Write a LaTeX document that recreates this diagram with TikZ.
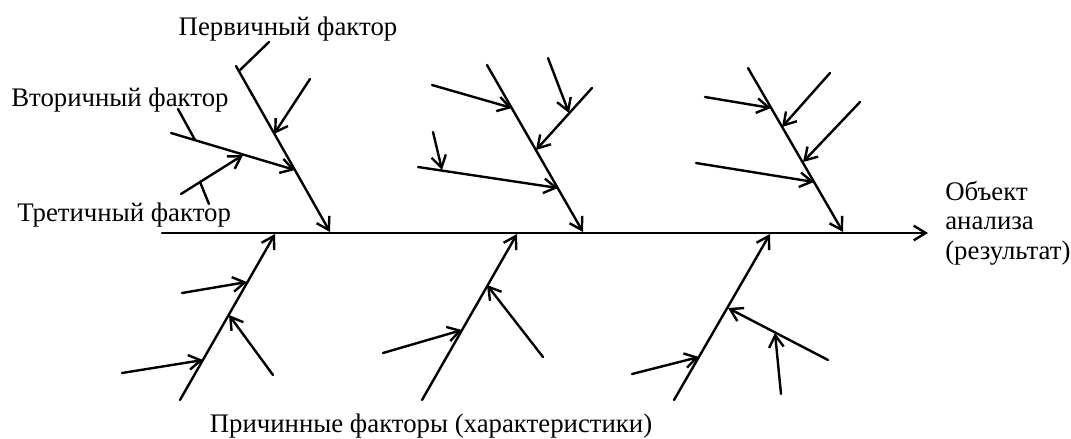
\documentclass[tikz,border=0pt]{standalone}
\usepackage{fontspec}
\setmainfont{Liberation Serif}
\usetikzlibrary{arrows.meta}
\begin{document}
\begin{tikzpicture}[x=0.75pt,y=-0.75pt,
  ln/.style={line width=1.8pt, line cap=round},
  arr/.style={ln, -{Straight Barb[length=9pt,width=11pt]}},
  lbl/.style={font=\fontsize{20.1}{22}\selectfont, inner sep=0pt}]
\useasboundingbox (0,0) rectangle (1071,439);
% spine
\coordinate (s0) at (162,233);
\coordinate (s1) at (928,233);
\draw[arr] (s0) -- (s1);
% upper branch 1
\coordinate (u1a) at (236,66);  \coordinate (u1b) at (330,232);
\coordinate (a11) at (310,79);  \coordinate (a11t) at (274,134);
\coordinate (a12) at (171,133); \coordinate (a12t) at (295,170);
\coordinate (a13) at (181,194); \coordinate (a13t) at (243,155);
\coordinate (p1a) at (239,71);  \coordinate (p1b) at (269,42);
\coordinate (p2a) at (195,140); \coordinate (p2b) at (178,109);
\coordinate (p3a) at (200,182); \coordinate (p3b) at (209,204);
\draw[arr] (u1a) -- (u1b);
\draw[arr] (a11) -- (a11t);
\draw[arr] (a12) -- (a12t);
\draw[arr] (a13) -- (a13t);
\draw[ln] (p1a) -- (p1b);
\draw[ln] (p2a) -- (p2b);
\draw[ln] (p3a) -- (p3b);
% upper branch 2
\coordinate (u2a) at (487,65);  \coordinate (u2b) at (583,232);
\coordinate (a21) at (432,85);  \coordinate (a21t) at (512,108);
\coordinate (a22) at (592,88);  \coordinate (a22t) at (536,150);
\coordinate (b22) at (548,58);  \coordinate (b22t) at (569,113);
\coordinate (a23) at (418,167); \coordinate (a23t) at (558,188);
\coordinate (b23) at (433,132); \coordinate (b23t) at (442,170);
\draw[arr] (u2a) -- (u2b);
\draw[arr] (a21) -- (a21t);
\draw[arr] (a22) -- (a22t);
\draw[arr] (b22) -- (b22t);
\draw[arr] (a23) -- (a23t);
\draw[arr] (b23) -- (b23t);
% upper branch 3
\coordinate (u3a) at (748,68);  \coordinate (u3b) at (843,232);
\coordinate (a31) at (705,97);  \coordinate (a31t) at (771,108);
\coordinate (a32) at (830,73);  \coordinate (a32t) at (782,127);
\coordinate (a33) at (860,102); \coordinate (a33t) at (803,162);
\coordinate (a34) at (696,163); \coordinate (a34t) at (814,182);
\draw[arr] (u3a) -- (u3b);
\draw[arr] (a31) -- (a31t);
\draw[arr] (a32) -- (a32t);
\draw[arr] (a33) -- (a33t);
\draw[arr] (a34) -- (a34t);
% lower branch 1
\coordinate (l1a) at (180,400); \coordinate (l1b) at (275,234);
\coordinate (c11) at (182,293); \coordinate (c11t) at (247,282);
\coordinate (c12) at (273,375); \coordinate (c12t) at (229,315);
\coordinate (c13) at (122,373); \coordinate (c13t) at (203,360);
\draw[arr] (l1a) -- (l1b);
\draw[arr] (c11) -- (c11t);
\draw[arr] (c12) -- (c12t);
\draw[arr] (c13) -- (c13t);
% lower branch 2
\coordinate (l2a) at (422,400); \coordinate (l2b) at (517,234);
\coordinate (c21) at (383,353); \coordinate (c21t) at (462,330);
\coordinate (c22) at (543,357); \coordinate (c22t) at (487,285);
\draw[arr] (l2a) -- (l2b);
\draw[arr] (c21) -- (c21t);
\draw[arr] (c22) -- (c22t);
% lower branch 3
\coordinate (l3a) at (674,400); \coordinate (l3b) at (770,234);
\coordinate (c31) at (632,374); \coordinate (c31t) at (699,357);
\coordinate (c32) at (828,360); \coordinate (c32t) at (728,308);
\coordinate (d32) at (781,394); \coordinate (d32t) at (775,333);
\draw[arr] (l3a) -- (l3b);
\draw[arr] (c31) -- (c31t);
\draw[arr] (c32) -- (c32t);
\draw[arr] (d32) -- (d32t);
% labels
\node[lbl, anchor=base] (tp) at (288,35) {Первичный фактор};
\node[lbl, anchor=base west] (ts) at (11,106) {Вторичный фактор};
\node[lbl, anchor=base west] (tt) at (17,221) {Третичный фактор};
\node[lbl, anchor=base west, align=left] (to) at (945,259) {Объект\\анализа\\(результат)};
\node[lbl, anchor=base] (tc) at (431,432) {Причинные факторы (характеристики)};
\end{tikzpicture}
\end{document}
